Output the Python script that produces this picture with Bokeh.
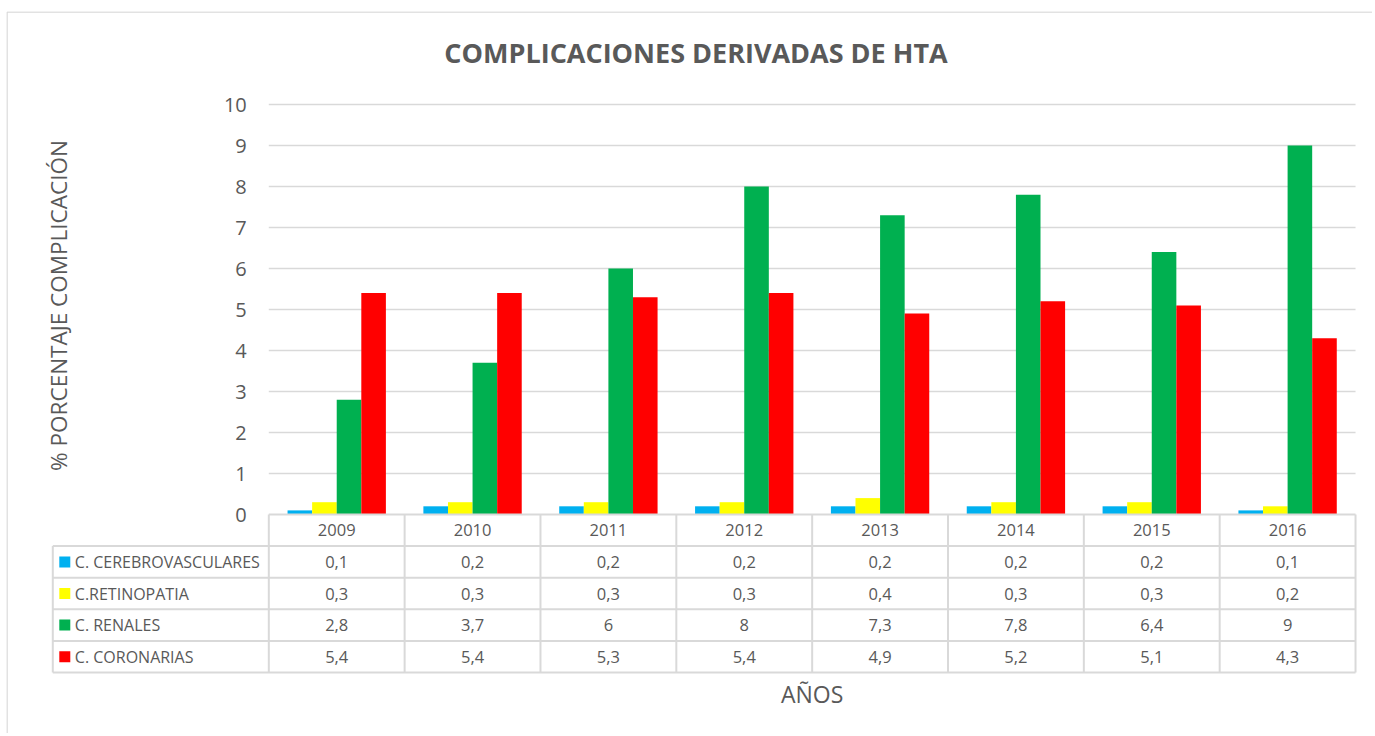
import math
from bokeh.plotting import figure
from bokeh.models import Range1d
from bokeh.embed import file_html
from bokeh.resources import INLINE
from bokeh.core.properties import value

# ---------------- data ----------------
years = ["2009", "2010", "2011", "2012", "2013", "2014", "2015", "2016"]
series_names = ["C. CEREBROVASCULARES", "C.RETINOPATIA", "C. RENALES", "C. CORONARIAS"]
cerebrovasculares = [0.1, 0.2, 0.2, 0.2, 0.2, 0.2, 0.2, 0.1]
retinopatia = [0.3, 0.3, 0.3, 0.3, 0.4, 0.3, 0.3, 0.2]
renales = [2.8, 3.7, 6, 8, 7.3, 7.8, 6.4, 9]
coronarias = [5.4, 5.4, 5.3, 5.4, 4.9, 5.2, 5.1, 4.3]
y_ticks = [0, 1, 2, 3, 4, 5, 6, 7, 8, 9, 10]
title_text = "COMPLICACIONES DERIVADAS DE HTA"
y_title = "% PORCENTAJE COMPLICACIÓN"
x_title = "AÑOS"

series_values = [cerebrovasculares, retinopatia, renales, coronarias]
colors = ["#00B0F0", "#FFFF00", "#00B050", "#FF0000"]
TXT = "#595959"
GRID = "#D9D9D9"
FONT = "Open Sans"

# ---------------- layout geometry (page pixels) ----------------
ORIGIN = 1                         # page offset of the canvas
W, H = 1372, 733
M_LEFT, M_TOP = 6, 11
PLOT_LEFT_PX, ZERO_PX = 269.3, 515.0   # where year columns start / value 0 lies
COL_PX = 135.84                    # width of one year column
PX_PER_UNIT = 41.0                 # pixels per value unit
ncol = len(years)
nrow = len(series_names)

FL = ORIGIN + M_LEFT
FR = ORIGIN + W
FT = ORIGIN + M_TOP
FB = ORIGIN + H


def px_x(px):
    return (px - PLOT_LEFT_PX) / COL_PX


def px_y(py):
    return (ZERO_PX - py) / PX_PER_UNIT


PX = 1.0 / COL_PX
PY = 1.0 / PX_PER_UNIT
X0, X1 = px_x(FL), px_x(FR)
Y0, Y1 = px_y(FB), px_y(FT)
LEG_X = px_x(53.3)                 # left edge of the data table
ROW = 31.6 * PY                    # table row height

p = figure(width=W, height=H, x_range=Range1d(X0, X1), y_range=Range1d(Y0, Y1),
           output_backend="svg", toolbar_location=None,
           x_axis_location=None, y_axis_location=None,
           min_border_left=M_LEFT, min_border_right=0,
           min_border_top=M_TOP, min_border_bottom=0)
p.outline_line_color = None
p.xgrid.visible = False
p.ygrid.visible = False
p.background_fill_color = "white"
p.border_fill_color = "white"

# ---- chart-area border (left and top visible) ----
p.segment(x0=[X0 + 0.5 * PX, X0 + 0.5 * PX], y0=[Y0, Y1 - 0.5 * PY],
          x1=[X0 + 0.5 * PX, X1], y1=[Y1 - 0.5 * PY, Y1 - 0.5 * PY],
          line_color=GRID, line_width=1.5)

# ---- gridlines (value axis) ----
gy = y_ticks[1:]
p.segment(x0=[0] * len(gy), y0=gy, x1=[ncol] * len(gy), y1=gy, line_color=GRID, line_width=1.3)

# ---- bars ----
bw = 0.181
for k, vals in enumerate(series_values):
    xs = [i + 0.5 + (k - 1.5) * bw for i in range(ncol)]
    p.vbar(x=xs, top=vals, bottom=0, width=bw, fill_color=colors[k], line_color=None)

# ---- value-axis labels ----
p.text(x=[-22 * PX] * len(y_ticks), y=y_ticks, text=[str(t) for t in y_ticks],
       text_align="right", text_baseline="middle", text_font=value(FONT),
       text_font_size="20px", text_color=TXT)
p.text(x=[px_x(59)], y=[px_y(306)], text=[y_title], angle=math.pi / 2,
       text_align="center", text_baseline="middle", text_font=value(FONT),
       text_font_size="22.5px", text_color=TXT)

# ---- title ----
p.text(x=[px_x(696.5)], y=[px_y(53)], text=[title_text], text_align="center",
       text_baseline="alphabetic", text_font=value(FONT), text_font_size="27px",
       text_font_style="bold", text_color=TXT)

# ---- data table ----
hx0 = [0] + [LEG_X] * (nrow + 1)
hx1 = [ncol] * (nrow + 2)
hy = [-r * ROW for r in range(nrow + 2)]
p.segment(x0=hx0, y0=hy, x1=hx1, y1=hy, line_color=GRID, line_width=2)
vx = [LEG_X] + list(range(ncol + 1))
vy0 = [-ROW] + [0] * (ncol + 1)
vy1 = [-(nrow + 1) * ROW] * (ncol + 2)
p.segment(x0=vx, y0=vy0, x1=vx, y1=vy1, line_color=GRID, line_width=2)

p.text(x=[i + 0.5 for i in range(ncol)], y=[-0.5 * ROW] * ncol, text=years,
       text_align="center", text_baseline="middle", text_font=value(FONT),
       text_font_size="16.5px", text_color=TXT)


def fmt(v):
    return ("%g" % v).replace(".", ",")


for r, (name, vals) in enumerate(zip(series_names, series_values)):
    yc = -(r + 1.5) * ROW
    p.scatter(x=[LEG_X + 12 * PX], y=[yc], marker="square", size=11, fill_color=colors[r], line_color=None)
    p.text(x=[LEG_X + 22 * PX], y=[yc], text=[name], text_align="left", text_baseline="middle",
           text_font=value(FONT), text_font_size="16px", text_color=TXT)
    p.text(x=[i + 0.5 for i in range(ncol)], y=[yc] * ncol, text=[fmt(v) for v in vals],
           text_align="center", text_baseline="middle", text_font=value(FONT),
           text_font_size="16.5px", text_color=TXT)

p.text(x=[ncol / 2], y=[px_y(694)], text=[x_title], text_align="center", text_baseline="middle",
       text_font=value(FONT), text_font_size="23px", text_color=TXT)

open("out.html", "w").write(file_html(p, INLINE))
